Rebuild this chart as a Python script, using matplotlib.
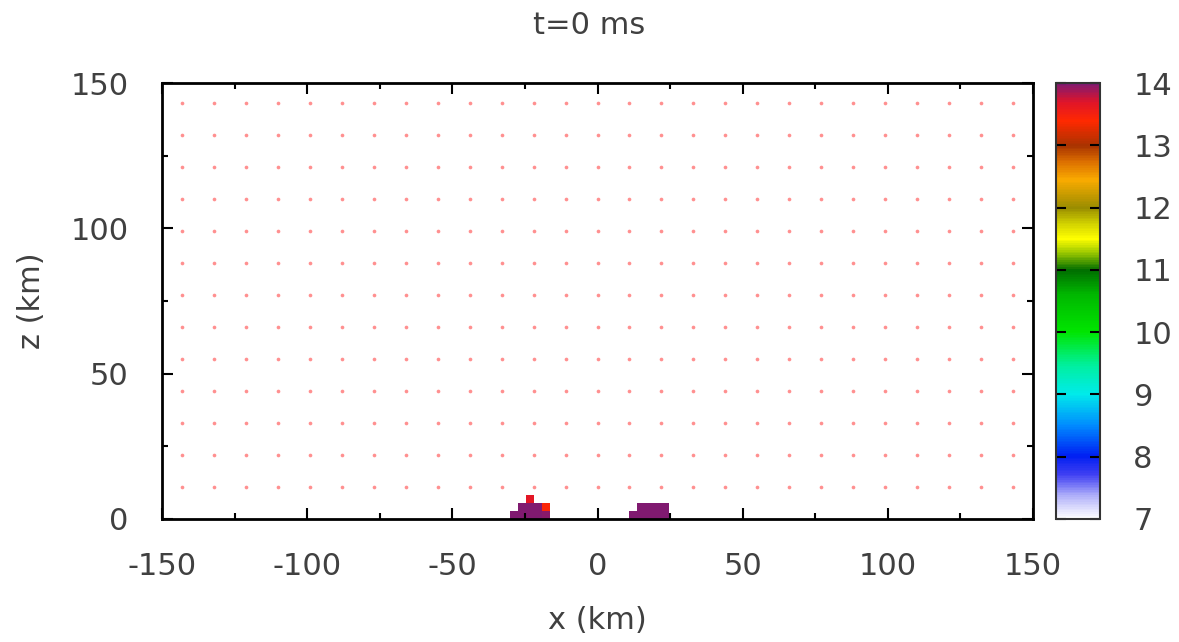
import numpy as np
import matplotlib
matplotlib.use("Agg")
import matplotlib.pyplot as plt
from matplotlib.colors import LinearSegmentedColormap
from matplotlib.ticker import MultipleLocator

# === Data ===
title = "t=0 ms"
# cell edges of the heat map (km)
x_edges = [-30.25, -27.5, -24.75, -22.0, -19.25, -16.5, -13.75, -11.0, -8.25, -5.5,
           -2.75, 0.0, 2.75, 5.5, 8.25, 11.0, 13.75, 16.5, 19.25, 22.0, 24.75]
z_edges = [0.0, 2.75, 5.5, 8.25]
nan = np.nan
row0 = [14.0, 14.0, 14.0, 14.0, 13.95, nan, nan, nan, nan, nan,
        nan, nan, nan, nan, nan, 14.0, 14.0, 14.0, 14.0, 14.0]
row1 = [nan, 14.0, 14.0, 14.0, 13.45, nan, nan, nan, nan, nan,
        nan, nan, nan, nan, nan, nan, 14.0, 14.0, 14.0, 14.0]
row2 = [nan, nan, 13.65, nan, nan, nan, nan, nan, nan, nan,
        nan, nan, nan, nan, nan, nan, nan, nan, nan, nan]

# sample point lattice (pink dots)
dot_x = [-143, -132, -121, -110, -99, -88, -77, -66, -55, -44, -33, -22, -11, 0,
         11, 22, 33, 44, 55, 66, 77, 88, 99, 110, 121, 132, 143]
dot_z = [11, 22, 33, 44, 55, 66, 77, 88, 99, 110, 121, 132, 143]

cb_ticks = [7, 8, 9, 10, 11, 12, 13, 14]

# palette (value, colour)
pal = [
    (7.0, (1.00, 1.00, 1.00)),
    (7.35, (0.70, 0.70, 0.98)),
    (7.7, (0.25, 0.25, 0.95)),
    (8.0, (0.00, 0.12, 0.95)),
    (8.5, (0.00, 0.55, 1.00)),
    (9.0, (0.00, 0.92, 0.92)),
    (9.45, (0.00, 0.94, 0.63)),
    (10.0, (0.00, 0.90, 0.00)),
    (10.6, (0.00, 0.72, 0.00)),
    (11.0, (0.00, 0.43, 0.00)),
    (11.25, (0.55, 0.75, 0.00)),
    (11.5, (1.00, 1.00, 0.00)),
    (11.75, (0.82, 0.82, 0.00)),
    (12.0, (0.60, 0.55, 0.00)),
    (12.45, (0.98, 0.67, 0.00)),
    (12.75, (0.86, 0.43, 0.00)),
    (13.0, (0.66, 0.20, 0.00)),
    (13.4, (1.00, 0.16, 0.00)),
    (13.7, (0.88, 0.08, 0.16)),
    (14.0, (0.50, 0.10, 0.44)),
]

vmin, vmax = 7, 14
cmap = LinearSegmentedColormap.from_list(
    "pal", [((v - vmin) / (vmax - vmin), c) for v, c in pal])
cmap.set_bad((1, 1, 1, 0))

txt = "#404040"
fs = 22
plt.rcParams["font.family"] = "DejaVu Sans"
plt.rcParams["axes.unicode_minus"] = False

fig = plt.figure(figsize=(11.79, 6.42), dpi=100)
ax = fig.add_axes([0.1374, 0.1916, 0.7388, 0.6791])
cax = fig.add_axes([0.8957, 0.1916, 0.0373, 0.6791])

vals = np.ma.masked_invalid(np.array([row0, row1, row2]))
mesh = ax.pcolormesh(x_edges, z_edges, vals, cmap=cmap, vmin=vmin, vmax=vmax)

gx, gz = np.meshgrid(dot_x, dot_z)
ax.scatter(gx.ravel(), gz.ravel(), s=7, color="#ff9090", linewidths=0, zorder=3)

ax.set_xlim(-150, 150)
ax.set_ylim(0, 150)
ax.xaxis.set_major_locator(MultipleLocator(50))
ax.xaxis.set_minor_locator(MultipleLocator(25))
ax.yaxis.set_major_locator(MultipleLocator(50))
ax.yaxis.set_minor_locator(MultipleLocator(25))
ax.tick_params(which="both", direction="in", top=True, right=True,
               colors="black", labelcolor=txt, labelsize=fs, width=1.5)
ax.tick_params(which="major", length=8, pad=24)
ax.tick_params(which="minor", length=4)
for s in ax.spines.values():
    s.set_linewidth(2)
    s.set_color("black")

ax.set_xlabel("x (km)", fontsize=fs, color=txt, labelpad=18)
ax.set_ylabel("z (km)", fontsize=fs, color=txt, labelpad=18)
fig.text(0.5, 0.961, title, ha="center", va="center", fontsize=fs, color=txt)

cb = fig.colorbar(mesh, cax=cax, ticks=cb_ticks)
cb.outline.set_linewidth(1.5)
cb.outline.set_edgecolor("#333333")
cax.tick_params(direction="in", left=True, right=True, length=7, width=1.5,
                labelsize=fs, labelcolor=txt, pad=24)

fig.savefig("out.png", dpi=100)
